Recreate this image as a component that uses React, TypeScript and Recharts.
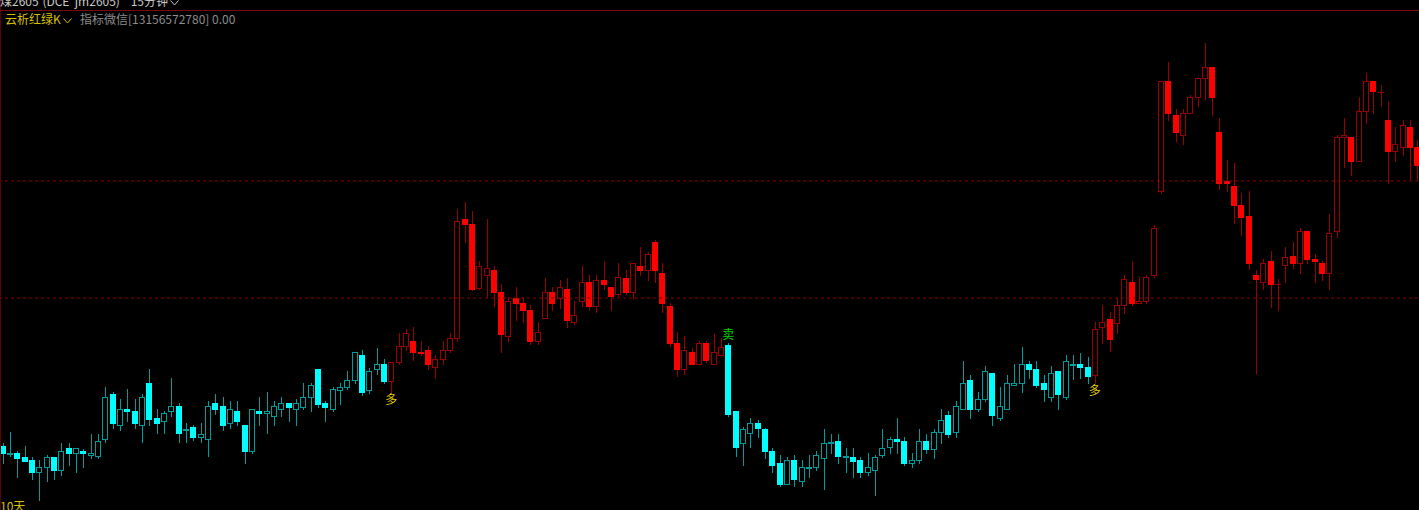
import { ComposedChart, Bar, XAxis, YAxis, ReferenceLine, ReferenceDot } from 'recharts';

// [open, high, low, close] per 15-minute bar
type Ohlc = [number, number, number, number];

const greenLeg1: Ohlc[] = [
  [854, 857, 837, 847], [846, 868, 844, 847], [847, 849, 823, 842], [843, 854, 839, 839],
  [840, 843, 821, 828], [828, 840, 800, 833], [833, 845, 819, 843], [843, 843, 821, 830],
  [830, 857, 825, 849], [852, 857, 835, 847], [847, 852, 828, 852], [849, 851, 833, 847],
  [845, 866, 842, 847], [844, 866, 842, 859], [861, 913, 858, 903], [906, 908, 872, 877],
  [875, 901, 870, 891], [891, 911, 879, 889], [889, 901, 872, 877], [875, 906, 858, 903],
  [917, 931, 875, 881], [882, 891, 867, 877], [879, 889, 867, 887], [889, 922, 884, 894],
  [894, 897, 858, 867], [870, 877, 858, 871], [873, 875, 860, 863], [863, 877, 858, 866],
  [861, 899, 844, 894], [897, 906, 886, 891], [894, 903, 870, 875], [877, 899, 872, 891],
  [889, 899, 875, 879], [875, 875, 837, 849], [849, 891, 847, 891], [889, 903, 875, 887],
  [887, 908, 867, 889], [884, 899, 875, 894], [891, 903, 884, 897], [897, 897, 879, 893],
  [891, 901, 875, 897], [893, 917, 891, 903], [903, 917, 889, 915], [931, 931, 893, 896],
  [897, 899, 879, 893], [891, 913, 889, 911], [910, 917, 896, 913], [913, 929, 911, 920],
  [920, 948, 917, 948], [945, 950, 905, 908], [910, 932, 907, 929], [931, 952, 926, 936],
  [936, 941, 917, 919],
];

const redLeg1: Ohlc[] = [
  [919, 938, 907, 938], [938, 967, 936, 954], [954, 971, 950, 967], [959, 973, 940, 948],
  [948, 959, 945, 947], [950, 954, 931, 936], [933, 945, 922, 941], [941, 959, 936, 950],
  [950, 967, 948, 962], [962, 1091, 959, 1079], [1081, 1098, 1058, 1076], [1076, 1089, 1010, 1011],
  [1012, 1039, 1011, 1034], [1025, 1081, 1003, 1032], [1030, 1034, 994, 1008], [1008, 1016, 948, 966],
  [964, 1003, 959, 999], [1002, 1013, 980, 997], [997, 1003, 978, 990], [990, 995, 956, 959],
  [959, 978, 956, 968], [982, 1022, 982, 1008], [1008, 1013, 990, 997], [1002, 1020, 992, 1013],
  [1011, 1022, 973, 980], [978, 999, 976, 985], [999, 1034, 994, 1018], [1018, 1025, 990, 994],
  [994, 1025, 988, 1020], [1020, 1039, 1011, 1016], [1013, 1013, 990, 1004], [1006, 1037, 1004, 1023],
  [1022, 1030, 1006, 1008], [1008, 1037, 1002, 1037], [1034, 1053, 1025, 1030], [1030, 1048, 1020, 1046],
  [1058, 1060, 1018, 1030], [1027, 1037, 988, 997], [994, 997, 954, 957], [957, 968, 924, 931],
  [931, 964, 926, 950], [948, 952, 936, 936], [936, 959, 936, 957], [957, 959, 938, 940],
  [936, 966, 936, 948], [945, 962, 945, 953],
];

const greenLeg2: Ohlc[] = [
  [955, 957, 884, 886], [889, 889, 844, 853], [857, 873, 835, 871], [867, 882, 853, 877],
  [877, 880, 863, 872], [871, 872, 842, 849], [849, 852, 828, 835], [837, 845, 814, 816],
  [816, 843, 816, 840], [840, 845, 814, 821], [819, 840, 814, 833], [832, 845, 823, 833],
  [833, 849, 830, 845], [842, 871, 811, 857], [857, 866, 847, 858], [859, 866, 837, 844],
  [843, 852, 828, 844], [843, 852, 823, 839], [840, 843, 823, 828], [828, 847, 825, 833],
  [830, 845, 805, 843], [845, 871, 843, 852], [853, 863, 847, 861], [861, 882, 847, 859],
  [859, 863, 835, 837], [837, 847, 833, 840], [840, 871, 837, 859], [859, 866, 847, 851],
  [851, 871, 842, 868], [868, 891, 857, 880], [885, 889, 863, 866], [868, 899, 863, 894],
  [891, 939, 891, 917], [920, 925, 882, 891], [891, 908, 889, 901], [901, 934, 899, 929],
  [927, 927, 875, 885], [882, 913, 880, 894], [891, 925, 891, 917], [915, 936, 915, 917],
  [917, 953, 908, 936], [936, 939, 922, 931], [931, 939, 913, 915], [917, 925, 899, 911],
  [903, 934, 899, 927], [929, 929, 891, 906], [903, 945, 901, 939], [935, 945, 921, 936],
  [936, 947, 922, 933], [933, 943, 917, 924],
];

const redLeg2: Ohlc[] = [
  [925, 978, 917, 971], [973, 995, 957, 978], [981, 988, 949, 961], [977, 1002, 967, 995],
  [995, 1025, 987, 1021], [1018, 1039, 995, 997], [997, 1023, 997, 999], [999, 1025, 997, 1023],
  [1025, 1075, 1023, 1072], [1109, 1219, 1107, 1219], [1219, 1238, 1180, 1187], [1185, 1191, 1159, 1168],
  [1165, 1191, 1156, 1187], [1187, 1205, 1187, 1203], [1203, 1222, 1194, 1222], [1222, 1257, 1201, 1233],
  [1233, 1233, 1185, 1203], [1168, 1182, 1111, 1117], [1119, 1140, 1109, 1117], [1114, 1137, 1077, 1095],
  [1095, 1107, 1065, 1083], [1084, 1109, 1031, 1037], [1025, 1030, 927, 1021], [1018, 1041, 1011, 1037],
  [1039, 1049, 993, 1016], [1016, 1021, 990, 1016], [1035, 1053, 1018, 1043], [1044, 1058, 1032, 1037],
  [1037, 1072, 1027, 1069], [1069, 1069, 1037, 1041], [1041, 1046, 1018, 1039], [1037, 1039, 1020, 1027],
  [1027, 1086, 1011, 1067], [1069, 1165, 1063, 1163], [1163, 1182, 1133, 1165], [1163, 1163, 1125, 1139],
  [1139, 1203, 1139, 1189], [1189, 1227, 1177, 1219], [1219, 1219, 1187, 1209], [1208, 1215, 1194, 1208],
  [1180, 1199, 1117, 1149], [1149, 1173, 1139, 1156], [1153, 1180, 1145, 1175], [1173, 1180, 1121, 1153],
  [1153, 1160, 1120, 1135],
];

const legs: { trend: 'green' | 'red'; bars: Ohlc[] }[] = [
  { trend: 'green', bars: greenLeg1 },
  { trend: 'red', bars: redLeg1 },
  { trend: 'green', bars: greenLeg2 },
  { trend: 'red', bars: redLeg2 },
];

const gridPrices = [1119, 1002];

const signalIdx = [53, 99, 149];
const signalText = ['多', '卖', '多'];
const signalPrice = [900, 965, 909];

const COLORS = {
  green: { bright: '#00ffff', dim: '#009c9c' },
  red: { bright: '#ff0000', dim: '#9a0000' },
};

const rows = legs.flatMap((leg) => leg.bars.map((b) => ({ trend: leg.trend, open: b[0], high: b[1], low: b[2], close: b[3] })))
  .map((r, i) => ({ ...r, idx: i }));

const CandleShape = (props: any) => {
  const { x, y, width, height, payload } = props;
  if (!payload) return null;
  const { open, high, low, close, trend } = payload;
  const top = Math.min(y, y + height);
  const h = Math.abs(height);
  const py = (v: number) => top + ((high - v) / (high - low || 1)) * h;
  const cx = Math.round(x + width / 2);
  const pal = COLORS[trend as 'green' | 'red'];
  const yHi = Math.round(py(high));
  const yLo = Math.round(py(low));
  const yO = Math.round(py(open));
  const yC = Math.round(py(close));
  const bTop = Math.min(yO, yC);
  const bBot = Math.max(yO, yC);
  let body;
  if (bBot - bTop < 1) {
    body = <line x1={cx - 3} x2={cx + 3} y1={bTop + 0.5} y2={bTop + 0.5} stroke={pal.dim} />;
  } else if (close >= open) {
    body = <rect x={cx - 2.5} y={bTop + 0.5} width={5} height={bBot - bTop} fill="#000" stroke={pal.dim} />;
  } else {
    body = <rect x={cx - 3} y={bTop} width={6} height={bBot - bTop + 1} fill={pal.bright} />;
  }
  return (
    <g>
      <line x1={cx + 0.5} x2={cx + 0.5} y1={yHi} y2={yLo + 1} stroke={pal.dim} />
      {body}
    </g>
  );
};

const Chevron = ({ color }: { color: string }) => (
  <svg width={9} height={6} style={{ marginLeft: 2, verticalAlign: 'middle' }}>
    <polyline points="0.5,0.5 4.5,5 8.5,0.5" fill="none" stroke={color} strokeWidth={1} />
  </svg>
);

const font = '"Noto Sans CJK SC", "Noto Sans", sans-serif';

export default function App() {
  return (
    <div style={{ position: 'fixed', left: 0, top: 0, width: 1419, height: 510, background: '#000', overflow: 'hidden', fontFamily: font }}>
      <div style={{ position: 'absolute', left: -1, top: 0 }}>
        <ComposedChart width={1422} height={510} data={rows} margin={{ top: 0, right: 0, bottom: 0, left: 0 }}>
          <XAxis dataKey="idx" type="category" hide />
          <YAxis type="number" domain={[790, 1300]} hide allowDataOverflow />
          {gridPrices.map((p) => (
            <ReferenceLine key={p} y={p} stroke="#8a0000" strokeDasharray="3 3" />
          ))}
          <Bar dataKey={(d: any) => [d.low, d.high]} shape={<CandleShape />} isAnimationActive={false} />
          {signalIdx.map((s, k) => (
            <ReferenceDot
              key={s}
              x={s}
              y={signalPrice[k]}
              r={1}
              fill="none"
              stroke="none"
              label={{ value: signalText[k], position: 'center', fill: signalText[k] === '卖' ? '#00d000' : '#e0cc00', fontSize: 12, fontFamily: font }}
            />
          ))}
        </ComposedChart>
      </div>
      <div style={{ position: 'absolute', left: 0, top: 0, width: 1, height: 510, background: '#5a0000' }} />
      <div style={{ position: 'absolute', left: 0, top: 10, width: 1419, height: 1, background: '#7a0a0a' }} />
      <div style={{ position: 'absolute', left: 0, top: -5, fontSize: 12, lineHeight: '12px', color: '#c8c8c8', whiteSpace: 'nowrap' }}>
        煤2605<span style={{ color: '#ff3030', fontSize: 8, verticalAlign: 'top' }}>*</span>(DCE&nbsp; jm2605)&nbsp;&nbsp;&nbsp; 15分钟
        <Chevron color="#c8c8c8" />
      </div>
      <div style={{ position: 'absolute', left: 5, top: 12, fontSize: 12, lineHeight: '14px', color: '#d8c000', whiteSpace: 'nowrap' }}>
        云析红绿K<Chevron color="#d8c000" />
      </div>
      <div style={{ position: 'absolute', left: 80, top: 12, fontSize: 12, lineHeight: '14px', color: '#8c8c8c', whiteSpace: 'nowrap' }}>
        指标微信[13156572780] 0.00
      </div>
      <div style={{ position: 'absolute', left: 0, top: 499, fontSize: 12, lineHeight: '14px', color: '#d8c000', whiteSpace: 'nowrap' }}>
        10天
      </div>
    </div>
  );
}
